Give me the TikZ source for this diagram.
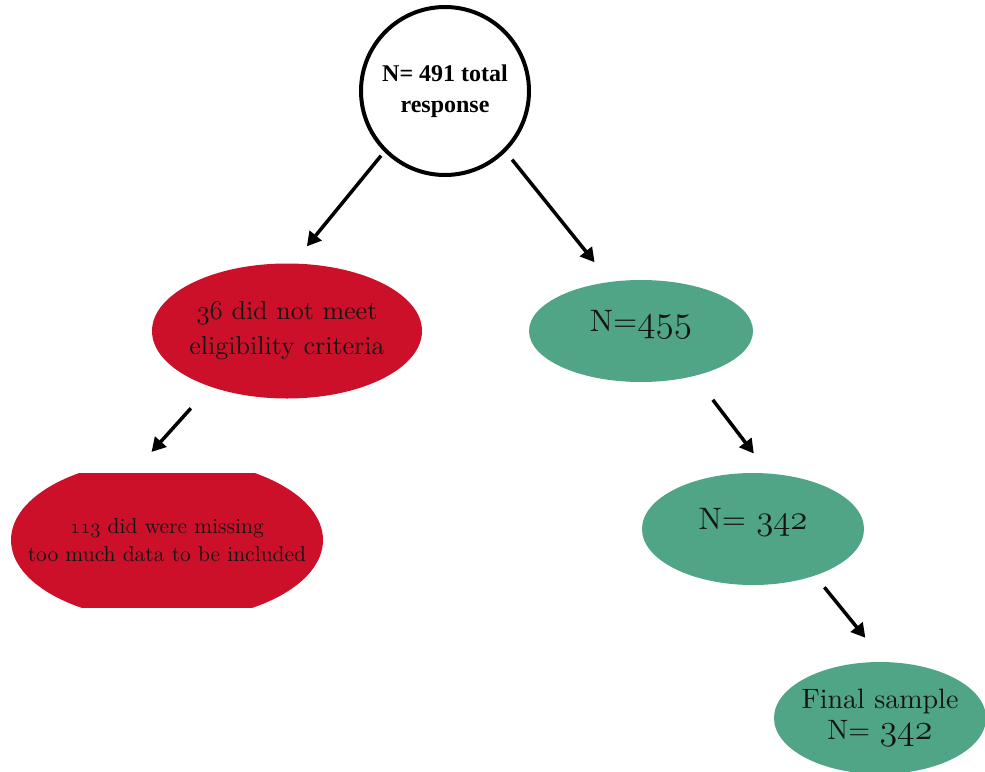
\documentclass[tikz,border=0pt]{standalone}
\usepackage{fontspec}
\usetikzlibrary{shapes.geometric, arrows.meta}
\setmainfont{lmroman10-regular.otf}[BoldFont=lmroman10-bold.otf]
\newfontfamily\headfont{Liberation Serif}
\definecolor{exclred}{HTML}{CC1029}
\definecolor{keptgreen}{HTML}{4FA585}
\definecolor{inkcol}{HTML}{141414}
\newcommand{\osnum}[2][1]{\scalebox{#1}{\usefont{OML}{lmm}{m}{it}#2}}

\begin{document}
\begin{tikzpicture}[
        >=Stealth,
        %% Grid: one unit = one pixel of the 985x771 canvas, y runs downwards.
        x=1pt, y=-1pt,
        total/.style={circle, draw=black, line width=4pt, fill=white, minimum size=168pt, inner sep=0pt, align=center, font=\headfont\bfseries\fontsize{24}{31}\selectfont},
        excluded/.style={ellipse, fill=exclred, inner sep=-12pt, align=center, text=inkcol},
        kept/.style={ellipse, fill=keptgreen, inner sep=-12pt, align=center, text=inkcol},
        cutoval/.style={rectangle, inner sep=0pt, align=center, text=inkcol,
            path picture={\fill[exclred] (path picture bounding box.center) ellipse [x radius=156pt, y radius=81pt];}},
        oneline/.style={text height=21pt, text depth=21pt},
        arrow/.style={-{Triangle[length=14pt, width=15pt]}, line width=3.5pt, color=black}
    ]
    \useasboundingbox (0,0) rectangle (985,771);

    %% --- Starting node ---
    \node[total] (total) at (445,91) {N= 491 total\\response};

    %% --- Excluded branch (left) ---
    \node[excluded, minimum width=270pt, minimum height=135pt, font=\fontsize{26}{35}\selectfont] (ineligible) at (287,331) {\osnum[1.08]{36} did not meet\\eligibility criteria};
    \node[cutoval, minimum width=312pt, minimum height=134pt, font=\fontsize{21.5}{28}\selectfont] (missing) at (167,540) {\osnum{113} did were missing\\too much data to be included};

    %% --- Kept branch (right) ---
    \node[kept, oneline, minimum width=224pt, minimum height=102pt, font=\fontsize{31}{36}\selectfont] (n455) at (641,331) {N=\osnum[1.5]{455}};
    \node[kept, oneline, minimum width=222pt, minimum height=112pt, font=\fontsize{31}{36}\selectfont] (n342) at (753,529) {N= \osnum[1.4]{342}};
    \node[kept, minimum width=212pt, minimum height=112pt, font=\fontsize{28}{31}\selectfont] (final) at (880,718) {Final sample\\N= \osnum[1.45]{342}};

    %% --- Connectors ---
    \draw[arrow, shorten <=5pt, shorten >=22pt] (total.south west) -- (ineligible.85);
    \draw[arrow, shorten <=10pt, shorten >=25pt] (total.south east) -- (n455.122);
    \draw[arrow, shorten <=29pt, shorten >=28pt] (ineligible.216) -- (missing.117);
    \draw[arrow, shorten <=30pt, shorten >=25pt] (n455.320) -- (n342.74);
    \draw[arrow, shorten <=15pt, shorten >=31pt] (n342.323) -- (final.85);
\end{tikzpicture}
\end{document}
